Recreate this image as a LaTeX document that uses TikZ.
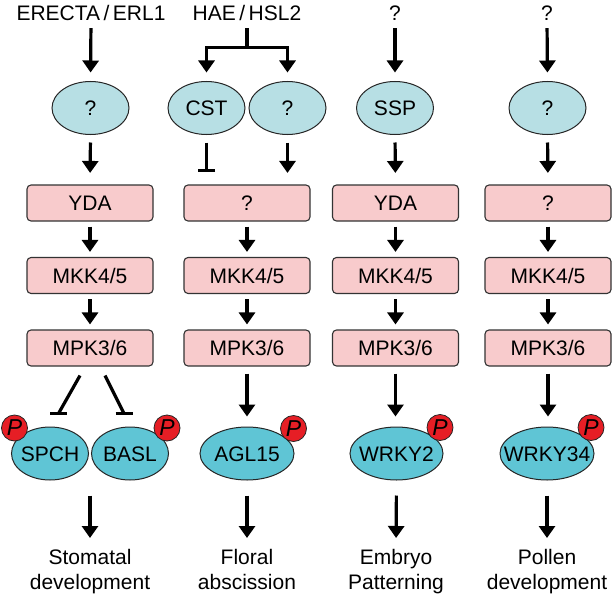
\documentclass[tikz,border=0pt]{standalone}
\usepackage{fontspec}
\setmainfont{Liberation Sans}
\usetikzlibrary{arrows.meta,calc,shapes.geometric}
\definecolor{pinkbox}{HTML}{F8CBCC}
\definecolor{lteal}{HTML}{B7DFE4}
\definecolor{cyanel}{HTML}{5FC5D5}
\definecolor{redp}{HTML}{E61E25}
\begin{document}
\begin{tikzpicture}[x=1pt,y=-1pt,
  fnt/.style={font=\fontsize{21}{25}\selectfont},
  lbl/.style={fnt, inner sep=0pt, text height=15pt, text depth=0pt},
  bot/.style={fnt, inner sep=0pt, align=center, anchor=north},
  topel/.style={ellipse, draw=black!85, line width=1pt, fill=lteal, minimum width=77pt, minimum height=53pt, inner sep=0pt},
  botel/.style={ellipse, draw=black!85, line width=1pt, fill=cyanel, minimum width=94pt, minimum height=53pt, inner sep=0pt},
  kbox/.style={rectangle, rounded corners=4pt, draw=black!80, line width=1.1pt, fill=pinkbox, minimum width=126pt, minimum height=36pt, inner sep=0pt, fnt},
  pcirc/.style={circle, draw=black!85, line width=0.8pt, fill=redp, minimum size=26pt, inner sep=0pt, font=\fontsize{23}{25}\selectfont\itshape},
  arr/.style={line width=3.2pt, -{Triangle[width=16pt,length=12pt]}},
  inh/.style={line width=3.2pt, -{Bar[width=17pt]}},
  plain/.style={line width=3.2pt}
]
\useasboundingbox (0,0) rectangle (612,599);

% ---------- column 1 ----------
\node[lbl] (t1) at (91,13) {ERECTA\,/\,ERL1};
\node[topel, label={[lbl]center:?}] (e1) at (90.5,108) {};
\node[kbox] (y1) at (90,203) {YDA};
\node[kbox] (k1) at (90,275.5) {MKK4/5};
\node[kbox] (m1) at (90,348) {MPK3/6};
\node[botel, minimum width=77pt, label={[lbl]center:SPCH}] (sp) at (50,453.5) {};
\node[botel, minimum width=77pt, label={[lbl]center:BASL}] (ba) at (130,453.5) {};
\node[bot] (b1) at (90,549) {Stomatal\\development};

% ---------- column 2 ----------
\node[lbl] (t2) at (247,13) {HAE\,/\,HSL2};
\node[topel, label={[lbl]center:CST}] (cst) at (206.5,108) {};
\node[topel, label={[lbl]center:?}] (e2) at (287.5,108) {};
\node[kbox] (y2) at (247,203) {?};
\node[kbox] (k2) at (247,275.5) {MKK4/5};
\node[kbox] (m2) at (247,348) {MPK3/6};
\node[botel, label={[lbl]center:AGL15}] (ag) at (247,453.5) {};
\node[bot] (b2) at (247,549) {Floral\\abscission};

% ---------- column 3 ----------
\node[lbl] (t3) at (395,13) {?};
\node[topel, label={[lbl]center:SSP}] (e3) at (395,108) {};
\node[kbox] (y3) at (395.5,203) {YDA};
\node[kbox] (k3) at (395.5,275.5) {MKK4/5};
\node[kbox] (m3) at (395.5,348) {MPK3/6};
\node[botel, minimum width=93pt, label={[lbl]center:WRKY2}] (wr2) at (396.5,453.5) {};
\node[bot] (b3) at (396,549) {Embryo\\Patterning};

% ---------- column 4 ----------
\node[lbl] (t4) at (547,13) {?};
\node[topel, label={[lbl]center:?}] (e4) at (547.5,108) {};
\node[kbox] (y4) at (548,203) {?};
\node[kbox] (k4) at (548,275.5) {MKK4/5};
\node[kbox] (m4) at (548,348) {MPK3/6};
\node[botel, label={[lbl]center:WRKY34}] (wr34) at (547,453.5) {};
\node[bot] (b4) at (547,549) {Pollen\\development};

% ---------- P circles ----------
\node[pcirc] (p1) at (14.5,428) {P};
\node[pcirc] (p2) at (167,428) {P};
\node[pcirc] (p3) at (293.5,428.5) {P};
\node[pcirc] (p4) at (440,427.5) {P};
\node[pcirc] (p5) at (591,427.5) {P};

% ---------- connectors ----------
\foreach \t/\e/\y in {t1/e1/y1, t3/e3/y3, t4/e4/y4}{
  \draw[arr, shorten <=7.5pt, shorten >=8.5pt] (\t.south) -- (\e.north);
  \draw[arr, shorten <=7.5pt, shorten >=11.5pt] (\e.south) -- (\y.north);
}
\foreach \y/\k/\m in {y1/k1/m1, y2/k2/m2, y3/k3/m3, y4/k4/m4}{
  \draw[arr, shorten <=5pt, shorten >=5pt] (\y.south) -- (\k.north);
  \draw[arr, shorten <=5pt, shorten >=5pt] (\k.south) -- (\m.north);
}
% column 2 top branch
\coordinate (hj) at ($(t2.south)+(0,26.5)$);
\draw[plain] ($(t2.south)+(0,7.5)$) -- (hj);
\draw[arr, line join=miter] (hj) -| ($(cst.north)+(0,-8.5)$);
\draw[arr, line join=miter] (hj) -| ($(e2.north)+(0,-8.5)$);
\draw[inh, shorten <=7.5pt, shorten >=12pt] (cst.south) -- (cst.south |- y2.north);
\draw[arr, shorten <=7.5pt, shorten >=11.5pt] (e2.south) -- (e2.south |- y2.north);

% column 1 inhibitions
\coordinate (i1s) at ($(m1.south)+(-10,9)$);
\coordinate (i1e) at ($(sp.north)+(8.5,-13)$);
\coordinate (i2s) at ($(m1.south)+(15,9)$);
\coordinate (i2e) at ($(ba.north)+(-6,-13)$);
\draw[plain] (i1s) -- (i1e);
\draw[plain] ($(i1e)+(-8.5,0)$) -- ($(i1e)+(8.5,0)$);
\draw[plain] (i2s) -- (i2e);
\draw[plain] ($(i2e)+(-8.5,0)$) -- ($(i2e)+(8.5,0)$);

% MPK to transcription factors
\draw[arr, shorten <=7pt, shorten >=10pt] (m2.south) -- (ag.north);
\draw[arr, shorten <=7pt, shorten >=10pt] (m3.south) -- (m3.south |- wr2.north);
\draw[arr, shorten <=7pt, shorten >=10pt] (m4.south) -- (m4.south |- wr34.north);

% to outcomes
\coordinate (mid1) at ($(sp.south)!0.5!(ba.south)$);
\draw[arr, shorten <=15pt, shorten >=11pt] (mid1) -- (b1.north);
\draw[arr, shorten <=15pt, shorten >=11pt] (ag.south) -- (b2.north);
\draw[arr, shorten <=15pt, shorten >=11pt] (wr2.south) -- (b3.north);
\draw[arr, shorten <=15pt, shorten >=11pt] (wr34.south) -- (b4.north);
\end{tikzpicture}
\end{document}
